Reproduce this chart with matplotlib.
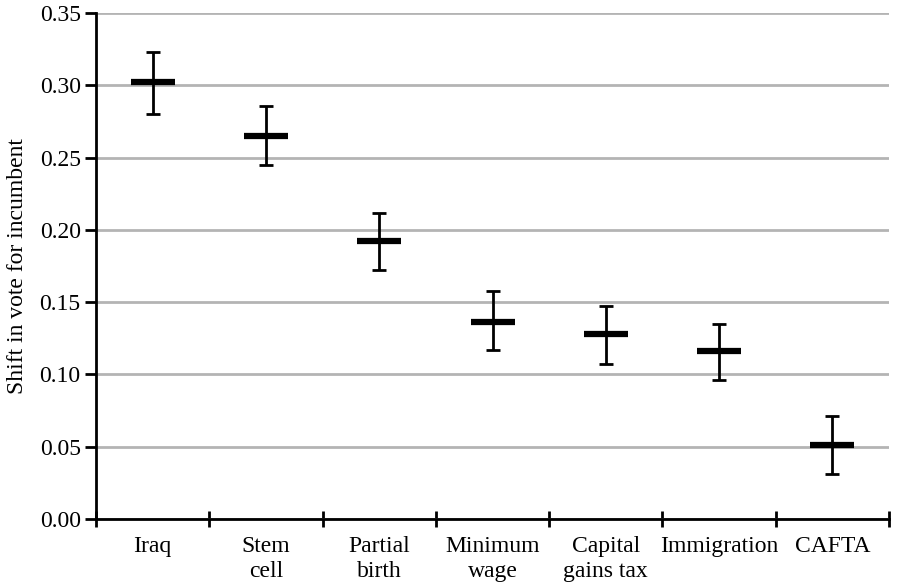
import numpy as np
import matplotlib.pyplot as plt
from matplotlib.ticker import FixedLocator, NullFormatter

plt.rcParams['font.family'] = ['Liberation Serif', 'DejaVu Serif']

# issues and estimated shifts
issues = ['Iraq', 'Stem\ncell', 'Partial\nbirth', 'Minimum\nwage',
          'Capital\ngains tax', 'Immigration', 'CAFTA']
shift = [0.302, 0.265, 0.192, 0.136, 0.128, 0.116, 0.051]
upper = [0.323, 0.286, 0.212, 0.158, 0.147, 0.135, 0.071]
lower = [0.280, 0.245, 0.172, 0.117, 0.107, 0.096, 0.031]

x = np.arange(len(issues))
shift = np.array(shift)
err = [shift - np.array(lower), np.array(upper) - shift]

fig = plt.figure(figsize=(8.98, 5.83), dpi=100)
ax = fig.add_axes([0.1069, 0.1098, 0.8831, 0.8679])

ax.set_ylim(0, 0.35)
ax.set_xlim(-0.5, len(issues) - 0.5)
ax.set_yticks(np.arange(0, 0.351, 0.05))
ax.set_yticklabels(['%.2f' % v for v in np.arange(0, 0.351, 0.05)])
ax.yaxis.grid(True, color='#b4b4b4', linewidth=2)
ax.set_axisbelow(True)

ax.errorbar(x, shift, yerr=err, fmt='none', ecolor='black',
            elinewidth=2, capsize=5, capthick=2)
ax.plot(x, shift, linestyle='none', marker='_', markersize=31,
        markeredgewidth=4.5, color='black')

ax.set_xticks(x)
ax.set_xticklabels(issues, fontsize=17, linespacing=1.3)
ax.tick_params(axis='x', which='major', length=0, pad=12)
ax.xaxis.set_minor_locator(FixedLocator(np.arange(-0.5, len(issues), 1.0)))
ax.xaxis.set_minor_formatter(NullFormatter())
ax.tick_params(axis='x', which='minor', direction='inout', length=11, width=2)
ax.tick_params(axis='y', direction='out', length=8, width=2, labelsize=17, pad=3)

for s in ['top', 'right']:
    ax.spines[s].set_visible(False)
for s in ['left', 'bottom']:
    ax.spines[s].set_linewidth(2)

ax.set_ylabel('Shift in vote for incumbent', fontsize=17, labelpad=8)

fig.savefig('out.png', dpi=100)
